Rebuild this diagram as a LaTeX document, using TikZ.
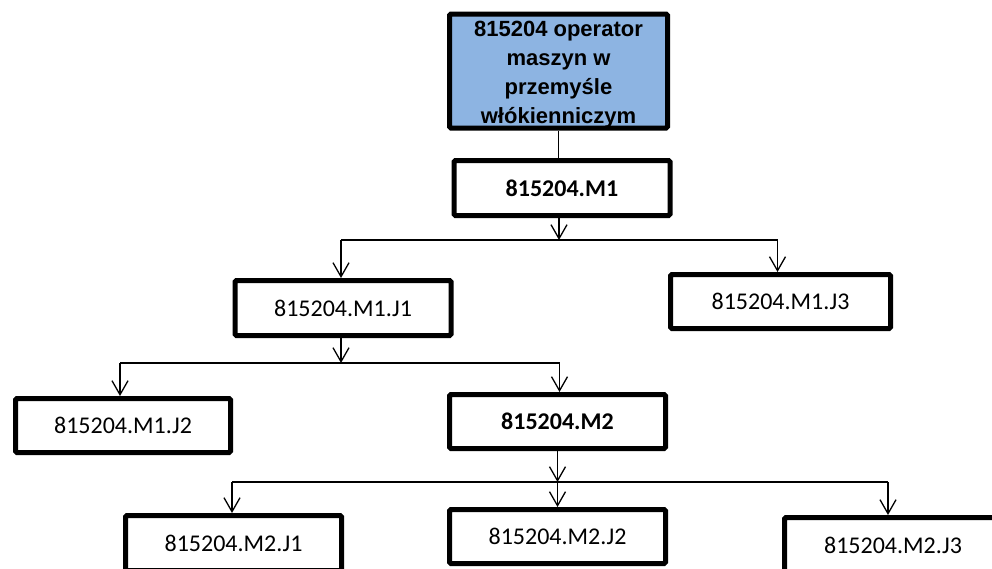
\documentclass[tikz,border=0pt]{standalone}
\usepackage{fontspec}
\setmainfont{Carlito}
\newfontfamily\arialfont{Liberation Sans}
\usetikzlibrary{arrows.meta}
\definecolor{topblue}{RGB}{141,180,226}
\begin{document}
\begin{tikzpicture}[x=1pt,y=-1pt,
  box/.style={draw, line width=5pt, rounded corners=1.5pt, inner sep=0pt,
    minimum width=216pt, minimum height=55pt, fill=white,
    font=\fontsize{24}{28}\selectfont},
  conn/.style={line width=1.3pt},
  arr/.style={conn, -{Straight Barb[length=14pt,width=16pt]}}]
\useasboundingbox (0,0) rectangle (992,568);
\clip (0,0) rectangle (992,568);
% nodes
\node[box, minimum width=218pt, minimum height=114pt, fill=topblue] (top) at (558.5,71) {};
\node[align=center, inner sep=0pt,
  font=\arialfont\bfseries\fontsize{22}{29}\selectfont] (toptext) at ([yshift=-3pt]top.center)
  {\strut 815204 operator\\\strut maszyn w\\\strut przemyśle\\\strut włókienniczym};
\node[box, font=\bfseries\fontsize{24}{28}\selectfont] (M1) at (562,188) {815204.M1};
\node[box] (J1) at (343,308) {815204.M1.J1};
\node[box, minimum width=220pt, minimum height=54pt] (J3) at (780.5,301.5) {815204.M1.J3};
\node[box, minimum width=215pt, minimum height=54pt] (J2) at (123,425.5) {815204.M1.J2};
\node[box, minimum height=54pt, font=\bfseries\fontsize{24}{28}\selectfont] (M2) at (557.5,421.5) {815204.M2};
\node[box] (K1) at (233.5,543) {815204.M2.J1};
\node[box, minimum height=54pt] (K2) at (557.5,536.5) {815204.M2.J2};
\node[box, minimum width=217pt] (K3) at (893,545) {815204.M2.J3};
% rails
\coordinate (h1) at (0,240);
\coordinate (h2) at (0,363);
\coordinate (h3) at (0,482);
% connectors
\draw[conn] (top.south) -- (top.south |- M1.north);
\draw[arr] ([xshift=-3pt]M1.south) -- ([xshift=-3pt]M1.south |- h1);
\draw[conn] ([xshift=-2pt]J1.north |- h1) -- ([xshift=-3pt]J3.north |- h1);
\draw[arr] ([xshift=-2pt]J1.north |- h1) -- ([xshift=-2pt]J1.north);
\draw[arr] ([xshift=-3pt]J3.north |- h1) -- ([xshift=-3pt]J3.north);
\draw[arr] ([xshift=-2pt]J1.south) -- ([xshift=-2pt]J1.south |- h2);
\draw[conn] ([xshift=-3pt]J2.north |- h2) -- ([xshift=2pt]M2.north |- h2);
\draw[arr] ([xshift=-3pt]J2.north |- h2) -- ([xshift=-3pt]J2.north);
\draw[arr] ([xshift=2pt]M2.north |- h2) -- ([xshift=2pt]M2.north);
\draw[arr] (M2.south) -- (M2.south |- h3);
\draw[conn] ([xshift=-1.5pt]K1.north |- h3) -- ([xshift=-5pt]K3.north |- h3);
\draw[arr] ([xshift=-1.5pt]K1.north |- h3) -- ([xshift=-1.5pt]K1.north);
\draw[arr] (K2.north |- h3) -- (K2.north);
\draw[arr] ([xshift=-5pt]K3.north |- h3) -- ([xshift=-5pt]K3.north);
\end{tikzpicture}
\end{document}
